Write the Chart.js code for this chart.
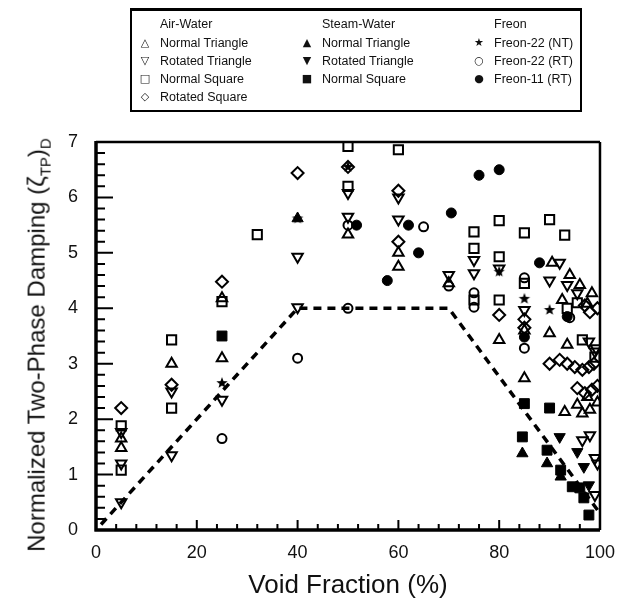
<!DOCTYPE html>
<html>
<head>
<meta charset="utf-8">
<script src="https://cdn.jsdelivr.net/npm/chart.js@4.4.0/dist/chart.umd.min.js"></script>
<style>
  html, body { margin: 0; padding: 0; background: #fff; }
  #wrap { position: relative; width: 627px; height: 602px; overflow: hidden; }
  #chart { position: absolute; left: 0; top: 0; }
  #legend {
    position: absolute; left: 130px; top: 8px; width: 452px; height: 104px;
    border: 2px solid #000; border-top-width: 3px; box-sizing: border-box;
    font-family: "Liberation Sans", Arial, sans-serif; font-size: 12.5px; color: #111;
  }
  #legend span { position: absolute; white-space: nowrap; line-height: 14px; }
  #legend .sym { font-family: "DejaVu Sans", sans-serif; font-size: 11px; width: 14px; text-align: center; font-weight: bold; }
  #ytitle {
    position: absolute; left: 38px; top: 345px; white-space: nowrap;
    font-family: "Liberation Sans", Arial, sans-serif; font-size: 24px; color: #111;
    transform: translate(-50%, -50%) rotate(-90deg);
  }
  #ytitle sub { font-size: 15px; }
</style>
</head>
<body>
<div id="wrap">
  <canvas id="chart" width="627" height="602"></canvas>
  <div id="legend"></div>
  <div id="ytitle">Normalized Two-Phase Damping (ζ<sub>TP</sub>)<sub>D</sub></div>
</div>
<script>
// air-water
const awNormalTri = [[5,1.65],[5,1.48],[15,3.0],[25,3.1],[25,4.18],[50,5.33],[60,5.0],[60,4.75],[70,4.45],
  [80,3.43],[85,3.6],[85,2.74],[90.5,4.82],[90,3.55],[94,4.6],[96,4.42],[98.4,4.27],[92.5,4.15],[97.5,4.08],
  [93.5,3.34],[93,2.13],[95.5,2.26],[96.5,2.1],[98,2.17],[99.5,2.3],[97.5,2.4]];
const awRotTri = [[5,1.77],[5,1.2],[5,0.5],[15,2.5],[15,1.35],[25,2.35],[40,4.93],[40,4.02],[50,6.08],[50,5.65],
  [60,6.0],[60,5.6],[70,4.6],[75,4.87],[75,4.63],[80,4.72],[85,3.97],[92,4.82],[90,4.5],[93.5,4.42],[95.5,4.27],
  [97.8,3.4],[99,3.22],[99.2,3.28],[96.5,1.62],[98,1.71],[99,1.3],[99.5,1.2],[99,0.63]];
const awNormalSq = [[5,1.88],[5,1.08],[15,3.43],[15,2.2],[25,4.12],[32,5.33],[50,6.92],[50,6.2],[60,6.86],
  [75,5.38],[75,5.08],[75,4.15],[80,5.58],[80,4.93],[80,4.15],[85,5.36],[85,4.45],[90,5.6],[93,5.32],
  [95.5,4.1],[93.5,4.0],[96.5,3.43],[99,3.12]];
const awRotSq = [[5,2.2],[15,2.62],[25,4.48],[40,6.44],[50,6.55],[60,6.12],[60,5.2],[80,3.88],[85,3.8],[85,3.65],
  [90,3.0],[92,3.07],[93.5,3.0],[95,2.94],[96.5,2.89],[97.8,2.94],[98.8,3.0],[95.5,2.56],[97,2.47],[98.4,2.53],
  [99.5,2.6],[98,3.93],[99.5,4.0],[97,4.05]];
// steam-water
const swNormalTri = [[40,5.62],[84.6,1.38],[89.5,1.2],[92.2,0.96]];
const swRotTri = [[92,1.68],[95.5,1.41],[96.8,1.14],[97.8,0.81]];
const swNormalSq = [[25,3.5],[85,2.28],[84.6,1.68],[90,2.2],[89.5,1.44],[92.2,1.08],[94.5,0.78],[96,0.76],
  [96.8,0.58],[97.8,0.27]];
// freon
const f22NT = [[25,2.65],[40,5.62],[50,6.55],[80,4.66],[85,4.17],[90,3.97]];
const f22RT = [[25,1.65],[40,3.1],[50,4.0],[50,5.5],[65,5.47],[70,4.4],[75,4.28],[75,4.02],[85,4.55],[85,3.28],[94,3.83]];
const f11RT = [[51.7,5.5],[57.8,4.5],[62,5.5],[64,5.0],[70.5,5.72],[76,6.4],[80,6.5],[88,4.82],[85,3.48],[93.5,3.85]];
// dashed design line
const designX = [1, 40, 70, 100];
const designY = [0.1, 4, 4, 0.3];

const xTicks = [0, 20, 40, 60, 80, 100];
const yTicks = [0, 1, 2, 3, 4, 5, 6, 7];

const legendCols = [
  { head: 'Air-Water', rows: [['△', 'Normal Triangle'], ['▽', 'Rotated Triangle'], ['□', 'Normal Square'], ['◇', 'Rotated Square']] },
  { head: 'Steam-Water', rows: [['▲', 'Normal Triangle'], ['▼', 'Rotated Triangle'], ['■', 'Normal Square']] },
  { head: 'Freon', rows: [['★', 'Freon-22 (NT)'], ['○', 'Freon-22 (RT)'], ['●', 'Freon-11 (RT)']] }
];

// legend
const legendEl = document.getElementById('legend');
const colX = [6, 168, 340];
legendCols.forEach((col, i) => {
  const h = document.createElement('span');
  h.textContent = col.head;
  h.style.left = (colX[i] + 22) + 'px';
  h.style.top = '6px';
  legendEl.appendChild(h);
  col.rows.forEach((r, j) => {
    const s = document.createElement('span');
    s.className = 'sym';
    s.textContent = r[0];
    s.style.left = colX[i] + 'px';
    s.style.top = (25 + j * 18) + 'px';
    const t = document.createElement('span');
    t.textContent = r[1];
    t.style.left = (colX[i] + 22) + 'px';
    t.style.top = (25 + j * 18) + 'px';
    legendEl.appendChild(s);
    legendEl.appendChild(t);
  });
});

function starCanvas(r) {
  const c = document.createElement('canvas');
  c.width = c.height = r * 2 + 2;
  const g = c.getContext('2d');
  g.beginPath();
  for (let i = 0; i < 10; i++) {
    const a = -Math.PI / 2 + i * Math.PI / 5;
    const rr = i % 2 ? r * 0.42 : r;
    g.lineTo(r + 1 + rr * Math.cos(a), r + 1 + rr * Math.sin(a));
  }
  g.closePath();
  g.fillStyle = '#000';
  g.fill();
  return c;
}

function series(label, pts, style, opts) {
  return {
    type: 'scatter',
    label,
    data: pts.map(p => ({ x: p[0], y: p[1] })),
    pointStyle: style,
    pointRotation: opts.rot || 0,
    pointRadius: opts.r,
    pointBorderWidth: opts.bw == null ? 2 : opts.bw,
    pointBorderColor: '#000',
    pointBackgroundColor: opts.filled ? '#000' : 'rgba(0,0,0,0)'
  };
}

const datasets = [
  {
    type: 'line', label: 'design',
    data: designX.map((x, i) => ({ x, y: designY[i] })),
    borderColor: '#000', borderWidth: 3.5, borderDash: [8, 6], pointRadius: 0, fill: false, tension: 0
  },
  series('AW Normal Triangle', awNormalTri, 'triangle', { r: 6 }),
  series('AW Rotated Triangle', awRotTri, 'triangle', { r: 6, rot: 180 }),
  series('AW Normal Square', awNormalSq, 'rect', { r: 6.5 }),
  series('AW Rotated Square', awRotSq, 'rectRot', { r: 6 }),
  series('SW Normal Triangle', swNormalTri, 'triangle', { r: 6.5, filled: true, bw: 1 }),
  series('SW Rotated Triangle', swRotTri, 'triangle', { r: 6.5, rot: 180, filled: true, bw: 1 }),
  series('SW Normal Square', swNormalSq, 'rect', { r: 7, filled: true, bw: 1 }),
  series('Freon-22 (NT)', f22NT, starCanvas(6), { r: 6 }),
  series('Freon-22 (RT)', f22RT, 'circle', { r: 4.5 }),
  series('Freon-11 (RT)', f11RT, 'circle', { r: 5, filled: true, bw: 1 })
];

const frameTicks = {
  id: 'frameTicks',
  afterDatasetsDraw(chart) {
    const { ctx, chartArea: a, scales } = chart;
    ctx.save();
    ctx.strokeStyle = '#000';
    ctx.lineCap = 'butt';
    ctx.lineWidth = 2.5;
    ctx.beginPath();
    ctx.moveTo(a.left, a.top); ctx.lineTo(a.right, a.top);
    ctx.moveTo(a.right, a.top); ctx.lineTo(a.right, a.bottom);
    ctx.stroke();
    ctx.lineWidth = 3.5;
    ctx.beginPath();
    ctx.moveTo(a.left, a.top - 1); ctx.lineTo(a.left, a.bottom + 1.5);
    ctx.moveTo(a.left - 1.5, a.bottom); ctx.lineTo(a.right, a.bottom);
    ctx.stroke();
    ctx.lineWidth = 2;
    ctx.beginPath();
    for (let v = 0; v <= 100; v += 4) {
      const px = scales.x.getPixelForValue(v);
      const len = v % 20 === 0 ? 10 : 6;
      ctx.moveTo(px, a.bottom); ctx.lineTo(px, a.bottom - len);
    }
    for (let i = 0; i <= 35; i++) {
      const py = scales.y.getPixelForValue(i * 0.2);
      const len = i % 5 === 0 ? 17 : 9;
      ctx.moveTo(a.left, py); ctx.lineTo(a.left + len, py);
    }
    ctx.stroke();
    ctx.restore();
  }
};

new Chart(document.getElementById('chart'), {
  data: { datasets },
  options: {
    responsive: false,
    animation: false,
    layout: { padding: { top: 142, right: 22, left: 0, bottom: 0 } },
    plugins: { legend: { display: false }, tooltip: { enabled: false } },
    scales: {
      x: {
        type: 'linear', min: 0, max: 100,
        afterFit: s => { s.height = 72; },
        afterBuildTicks: s => { s.ticks = xTicks.map(v => ({ value: v })); },
        grid: { display: false, drawTicks: false },
        border: { display: false },
        ticks: { color: '#111', padding: 12, font: { family: 'Liberation Sans', size: 18 } },
        title: { display: true, text: 'Void Fraction (%)', color: '#111', padding: { top: 0, bottom: 1 },
          font: { family: 'Liberation Sans', size: 26 } }
      },
      y: {
        type: 'linear', min: 0, max: 7,
        afterFit: s => { s.width = 96; },
        afterBuildTicks: s => { s.ticks = yTicks.map(v => ({ value: v })); },
        grid: { display: false, drawTicks: false },
        border: { display: false },
        ticks: { color: '#111', padding: 18, font: { family: 'Liberation Sans', size: 18 } }
      }
    }
  },
  plugins: [frameTicks]
});
</script>
</body>
</html>
